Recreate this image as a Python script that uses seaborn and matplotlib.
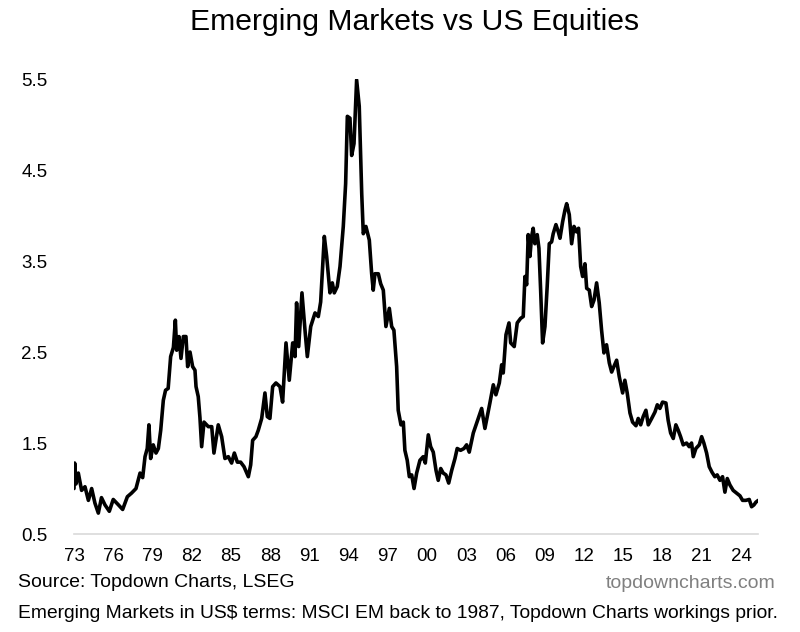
import numpy as np
import pandas as pd
import matplotlib
matplotlib.use("Agg")
import matplotlib.pyplot as plt
import seaborn as sns

# ---- data ----
years = [
    1973.00, 1973.05, 1973.15, 1973.33, 1973.58, 1973.84, 1974.10, 1974.35, 1974.60, 1974.86,
    1975.10, 1975.37, 1975.70, 1976.00, 1976.40, 1976.72, 1977.08, 1977.40, 1977.74, 1978.05,
    1978.25, 1978.43, 1978.60, 1978.73, 1978.86, 1979.06, 1979.27, 1979.45, 1979.63, 1979.83,
    1980.00, 1980.20, 1980.39, 1980.60, 1980.75, 1980.85, 1981.03, 1981.18, 1981.36, 1981.56,
    1981.69, 1981.87, 1982.07, 1982.25, 1982.33, 1982.50, 1982.63, 1982.76, 1982.94, 1983.27,
    1983.53, 1983.70, 1984.03, 1984.29, 1984.54, 1984.80, 1985.05, 1985.26, 1985.49, 1985.74,
    1986.00, 1986.33, 1986.51, 1986.66, 1986.91, 1987.09, 1987.35, 1987.60, 1987.78, 1987.98,
    1988.19, 1988.44, 1988.75, 1988.95, 1989.21, 1989.46, 1989.72, 1989.90, 1990.02, 1990.18,
    1990.43, 1990.68, 1990.84, 1991.10, 1991.43, 1991.68, 1991.86, 1992.14, 1992.32, 1992.57,
    1992.75, 1992.90, 1993.13, 1993.34, 1993.59, 1993.77, 1993.90, 1994.10, 1994.23, 1994.41,
    1994.61, 1994.81, 1995.00, 1995.12, 1995.32, 1995.58, 1995.76, 1995.88, 1996.01, 1996.27,
    1996.45, 1996.65, 1996.85, 1997.11, 1997.29, 1997.46, 1997.67, 1997.79, 1998.00, 1998.18,
    1998.30, 1998.48, 1998.64, 1998.82, 1999.00, 1999.20, 1999.45, 1999.70, 1999.86, 2000.09,
    2000.27, 2000.47, 2000.68, 2000.85, 2001.04, 2001.23, 2001.44, 2001.65, 2001.88, 2002.13,
    2002.30, 2002.56, 2002.82, 2003.02, 2003.22, 2003.53, 2003.79, 2004.17, 2004.42, 2004.80,
    2005.06, 2005.26, 2005.52, 2005.70, 2005.82, 2006.03, 2006.26, 2006.39, 2006.66, 2006.89,
    2007.15, 2007.35, 2007.48, 2007.61, 2007.73, 2007.86, 2007.99, 2008.11, 2008.24, 2008.42,
    2008.55, 2008.68, 2008.83, 2009.01, 2009.18, 2009.34, 2009.52, 2009.64, 2009.85, 2010.03,
    2010.16, 2010.36, 2010.54, 2010.67, 2010.87, 2011.05, 2011.23, 2011.43, 2011.58, 2011.74,
    2011.89, 2012.07, 2012.20, 2012.40, 2012.58, 2012.76, 2012.96, 2013.16, 2013.34, 2013.52,
    2013.72, 2013.93, 2014.11, 2014.28, 2014.49, 2014.69, 2014.95, 2015.12, 2015.30, 2015.51,
    2015.71, 2015.97, 2016.14, 2016.33, 2016.52, 2016.73, 2016.91, 2017.17, 2017.42, 2017.60,
    2017.80, 2018.00, 2018.26, 2018.43, 2018.62, 2018.82, 2019.02, 2019.20, 2019.38, 2019.58,
    2019.84, 2020.04, 2020.22, 2020.35, 2020.55, 2020.81, 2020.99, 2021.16, 2021.37, 2021.57,
    2021.78, 2022.00, 2022.18, 2022.39, 2022.59, 2022.77, 2022.95, 2023.15, 2023.40, 2023.66,
    2023.92, 2024.12, 2024.37, 2024.63, 2024.81, 2024.99, 2025.14, 2025.32,
]
ratio = [
    1.00, 1.28, 1.05, 1.17, 0.98, 1.02, 0.87, 1.00, 0.84, 0.73,
    0.90, 0.82, 0.75, 0.88, 0.82, 0.77, 0.91, 0.95, 1.00, 1.17,
    1.12, 1.35, 1.44, 1.70, 1.33, 1.48, 1.39, 1.44, 1.64, 1.97,
    2.08, 2.10, 2.45, 2.55, 2.85, 2.52, 2.67, 2.43, 2.67, 2.67,
    2.34, 2.50, 2.34, 2.30, 2.12, 2.01, 1.78, 1.46, 1.73, 1.68,
    1.68, 1.39, 1.70, 1.57, 1.33, 1.35, 1.28, 1.39, 1.29, 1.29,
    1.24, 1.13, 1.26, 1.53, 1.57, 1.64, 1.77, 2.05, 1.79, 1.77,
    2.12, 2.16, 2.12, 1.95, 2.60, 2.19, 2.60, 2.45, 3.04, 2.56,
    3.15, 2.71, 2.45, 2.78, 2.93, 2.89, 3.05, 3.77, 3.55, 3.15,
    3.26, 3.15, 3.22, 3.44, 3.88, 4.35, 5.09, 5.07, 4.66, 4.79,
    5.49, 5.20, 4.24, 3.80, 3.88, 3.73, 3.36, 3.18, 3.36, 3.36,
    3.25, 3.18, 2.78, 2.98, 2.78, 2.74, 2.34, 1.86, 1.70, 1.73,
    1.42, 1.31, 1.13, 1.15, 1.00, 1.17, 1.31, 1.35, 1.28, 1.59,
    1.46, 1.40, 1.20, 1.09, 1.22, 1.17, 1.15, 1.06, 1.20, 1.33,
    1.44, 1.42, 1.44, 1.48, 1.40, 1.61, 1.72, 1.88, 1.66, 1.94,
    2.14, 2.03, 2.16, 2.36, 2.27, 2.69, 2.82, 2.60, 2.56, 2.82,
    2.87, 2.89, 3.33, 3.24, 3.79, 3.55, 3.77, 3.86, 3.69, 3.79,
    3.64, 3.18, 2.60, 2.78, 3.22, 3.69, 3.71, 3.80, 3.90, 3.82,
    3.75, 3.93, 4.06, 4.13, 4.01, 3.69, 3.88, 3.82, 3.86, 3.44,
    3.33, 3.47, 3.20, 3.18, 3.00, 3.07, 3.26, 3.04, 2.74, 2.49,
    2.58, 2.38, 2.28, 2.34, 2.41, 2.23, 2.05, 2.19, 2.05, 1.83,
    1.73, 1.69, 1.77, 1.70, 1.79, 1.86, 1.70, 1.77, 1.84, 1.92,
    1.88, 1.95, 1.94, 1.75, 1.61, 1.55, 1.70, 1.64, 1.57, 1.48,
    1.50, 1.46, 1.50, 1.35, 1.44, 1.48, 1.57, 1.50, 1.39, 1.24,
    1.18, 1.13, 1.15, 1.09, 1.13, 0.96, 1.11, 1.04, 0.98, 0.95,
    0.92, 0.87, 0.87, 0.88, 0.80, 0.82, 0.85, 0.87,
]
tick_years = list(range(1973, 2025, 3))
tick_labels = [f"{y % 100:02d}" for y in tick_years]
y_ticks = [0.5, 1.5, 2.5, 3.5, 4.5, 5.5]

df = pd.DataFrame({"year": years, "ratio": ratio})

sns.set_style("white")
plt.rcParams["font.family"] = ["Liberation Sans", "DejaVu Sans"]

fig = plt.figure(figsize=(8.0, 6.32), dpi=100)
ax = fig.add_axes([0.0925, 0.155, 0.855, 0.72])

sns.lineplot(data=df, x="year", y="ratio", ax=ax, color="black", linewidth=2.6)

ax.set_xlim(1973.0, 2025.3)
ax.set_ylim(0.5, 5.5)
ax.set_xticks(tick_years)
ax.set_xticklabels(tick_labels)
ax.set_yticks(y_ticks)
ax.set_yticklabels([f"{v:.1f}" for v in y_ticks])
ax.tick_params(axis="both", length=0, labelsize=13.5, colors="black")
ax.tick_params(axis="y", pad=19)
ax.tick_params(axis="x", pad=10)
ax.set_xlabel("")
ax.set_ylabel("")
for side in ["left", "right", "top"]:
    ax.spines[side].set_visible(False)
ax.spines["bottom"].set_color("#d9d9d9")
ax.spines["bottom"].set_linewidth(1.2)

fig.text(0.518, 0.965, "Emerging Markets vs US Equities", ha="center", va="center",
         fontsize=21.7, color="black")
fig.text(0.0225, 0.079, "Source: Topdown Charts, LSEG", ha="left", va="center",
         fontsize=14.0, color="black")
fig.text(0.97, 0.077, "topdowncharts.com", ha="right", va="center",
         fontsize=14, color="#808080")
fig.text(0.0225, 0.03, "Emerging Markets in US$ terms: MSCI EM back to 1987, Topdown Charts workings prior.",
         ha="left", va="center", fontsize=13.9, color="black")

fig.savefig("out.png", dpi=100)
